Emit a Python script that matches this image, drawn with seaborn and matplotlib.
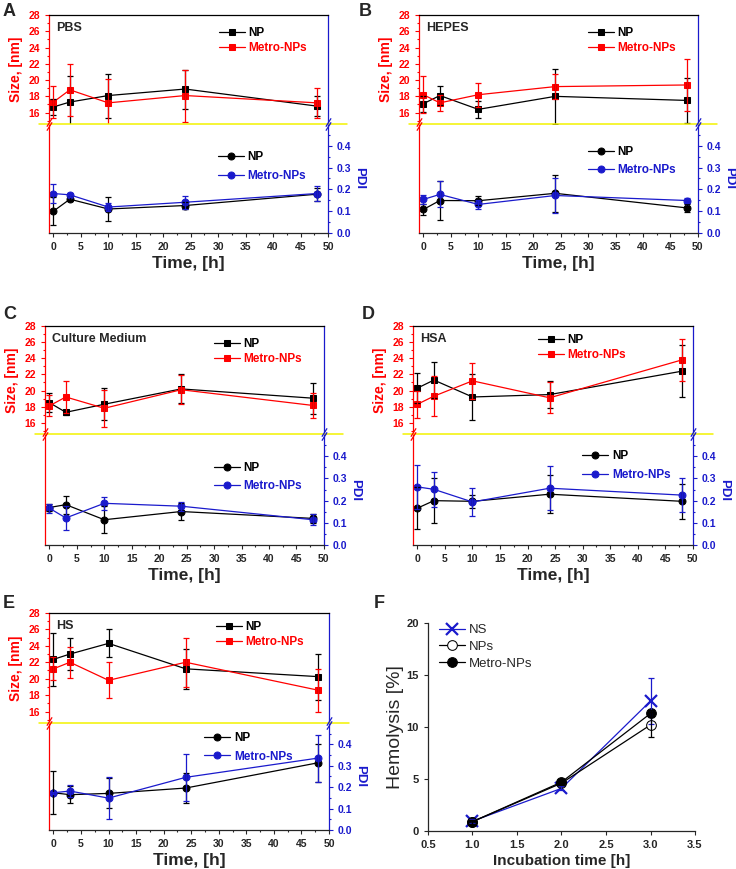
import numpy as np
import pandas as pd
import matplotlib
matplotlib.use('Agg')
import matplotlib.pyplot as plt
import seaborn as sns
from matplotlib.ticker import MultipleLocator

sns.set_style('ticks')
plt.rcParams['font.family'] = ['Liberation Sans', 'DejaVu Sans']
plt.rcParams['font.weight'] = 'bold'
plt.rcParams['axes.linewidth'] = 0.9

RED = '#ff0000'
BLUE = '#1a1acc'
YELLOW = '#f2f200'

# ---- data: stability over time (size and PDI) ----
time = [0, 3, 10, 24, 48]

pbs_np_size = [16.7, 17.3, 18.1, 18.9, 16.8]
pbs_np_size_err = [1.0, 3.2, 2.7, 2.4, 1.2]
pbs_metro_size = [17.3, 18.8, 17.2, 18.1, 17.2]
pbs_metro_size_err = [2.0, 3.2, 2.9, 3.2, 1.8]
pbs_np_pdi = [0.100, 0.155, 0.110, 0.126, 0.178]
pbs_np_pdi_err = [0.065, 0.010, 0.055, 0.015, 0.030]
pbs_metro_pdi = [0.181, 0.175, 0.119, 0.141, 0.181]
pbs_metro_pdi_err = [0.043, 0.010, 0.020, 0.030, 0.035]

hepes_np_size = [17.1, 18.1, 16.4, 18.0, 17.5]
hepes_np_size_err = [1.0, 1.2, 1.0, 3.4, 2.8]
hepes_metro_size = [18.2, 17.2, 18.2, 19.2, 19.4]
hepes_metro_size_err = [2.3, 1.0, 1.45, 1.5, 3.2]
hepes_np_pdi = [0.108, 0.149, 0.148, 0.182, 0.115]
hepes_np_pdi_err = [0.025, 0.090, 0.020, 0.085, 0.020]
hepes_metro_pdi = [0.154, 0.177, 0.131, 0.172, 0.149]
hepes_metro_pdi_err = [0.020, 0.060, 0.020, 0.080, 0.010]

cm_np_size = [18.5, 17.3, 18.3, 20.2, 19.05]
cm_np_size_err = [1.2, 0.3, 2.0, 1.8, 1.9]
cm_metro_size = [18.1, 19.2, 17.8, 20.1, 18.15]
cm_metro_size_err = [1.3, 2.0, 2.3, 1.8, 1.5]
cm_np_pdi = [0.169, 0.182, 0.114, 0.151, 0.120]
cm_np_pdi_err = [0.015, 0.040, 0.060, 0.040, 0.020]
cm_metro_pdi = [0.166, 0.122, 0.188, 0.175, 0.114]
cm_metro_pdi_err = [0.020, 0.055, 0.030, 0.020, 0.025]

hsa_np_size = [20.3, 21.3, 19.2, 19.5, 22.4]
hsa_np_size_err = [1.9, 2.2, 2.9, 1.7, 3.2]
hsa_metro_size = [18.3, 19.3, 21.2, 19.1, 23.8]
hsa_metro_size_err = [1.7, 2.5, 2.2, 1.9, 2.6]
hsa_np_pdi = [0.166, 0.200, 0.197, 0.229, 0.197]
hsa_np_pdi_err = [0.095, 0.100, 0.030, 0.085, 0.080]
hsa_metro_pdi = [0.262, 0.251, 0.194, 0.256, 0.225]
hsa_metro_pdi_err = [0.100, 0.080, 0.065, 0.100, 0.075]

hs_np_size = [22.35, 23.0, 24.3, 21.2, 20.25]
hs_np_size_err = [3.2, 1.95, 1.7, 2.4, 2.8]
hs_metro_size = [21.2, 22.0, 19.8, 22.0, 18.6]
hs_metro_size_err = [1.4, 1.9, 2.2, 3.0, 2.6]
hs_np_pdi = [0.174, 0.165, 0.171, 0.196, 0.314]
hs_np_pdi_err = [0.100, 0.040, 0.070, 0.070, 0.090]
hs_metro_pdi = [0.174, 0.182, 0.149, 0.246, 0.336]
hs_metro_pdi_err = [0.005, 0.030, 0.100, 0.110, 0.110]

# ---- data: hemolysis ----
incubation = [1.0, 2.0, 3.0]
ns_hemo = [0.95, 4.1, 12.5]
ns_hemo_err = [0.2, 0.2, 2.2]
nps_hemo = [0.9, 4.6, 10.2]
nps_hemo_err = [0.2, 0.2, 1.2]
metro_hemo = [0.9, 4.7, 11.3]
metro_hemo_err = [0.2, 0.2, 0.3]

fig = plt.figure(figsize=(7.36, 8.69), dpi=100)


def series(ax, x, y, err, color, marker, label, mfc=None):
    d = pd.DataFrame({'x': x, 'y': y})
    sns.lineplot(data=d, x='x', y='y', ax=ax, color=color, marker=marker,
                 markersize=5, markeredgecolor=color,
                 markerfacecolor=mfc if mfc else color,
                 linewidth=0.9, label=label)
    ax.errorbar(x, y, yerr=err, fmt='none', ecolor=color, elinewidth=0.9,
                capsize=2.2, capthick=0.9, zorder=3)


def break_marks(ax, xpos, color):
    for dy in (-0.018, 0.018):
        ax.plot([xpos], [dy], transform=ax.transAxes, marker=[(-1, -1.6), (1, 1.6)],
                markersize=6, linestyle='none', color=color, mec=color, mew=0.9,
                clip_on=False, zorder=5)


def stability_panel(rect, letter, letter_pos, medium, np_size, np_size_err,
                    metro_size, metro_size_err, np_pdi, np_pdi_err,
                    metro_pdi, metro_pdi_err, leg_top, leg_bot):
    left, bottom, width, h_bot, h_top = rect
    ax_b = fig.add_axes([left, bottom, width, h_bot])
    ax_t = fig.add_axes([left, bottom + h_bot, width, h_top], sharex=ax_b)

    series(ax_t, time, np_size, np_size_err, 'black', 's', 'NP')
    series(ax_t, time, metro_size, metro_size_err, RED, 's', 'Metro-NPs')
    series(ax_b, time, np_pdi, np_pdi_err, 'black', 'o', 'NP')
    series(ax_b, time, metro_pdi, metro_pdi_err, BLUE, 'o', 'Metro-NPs')

    ax_b.set_xlim(-0.8, 50)
    ax_b.xaxis.set_major_locator(MultipleLocator(5))
    ax_b.xaxis.set_minor_locator(MultipleLocator(2.5))

    # upper: size
    ax_t.set_ylim(14.6, 28)
    ax_t.yaxis.set_major_locator(MultipleLocator(2))
    ax_t.yaxis.set_minor_locator(MultipleLocator(1))
    ax_t.tick_params(axis='x', which='both', bottom=False, labelbottom=False)
    ax_t.tick_params(axis='y', which='both', colors=RED, labelsize=7.5,
                     direction='out', length=3, width=0.8)
    ax_t.tick_params(axis='y', which='minor', length=1.6)
    ax_t.spines['left'].set_color(RED)
    ax_t.spines['right'].set_color(BLUE)
    ax_t.spines['top'].set_color('black')
    ax_t.spines['bottom'].set_visible(False)
    ax_t.set_xlabel('')
    ax_t.set_ylabel('Size, [nm]', color=RED, fontsize=10, fontweight='bold', labelpad=4)

    # lower: PDI
    ax_b.set_ylim(0, 0.5)
    ax_b.yaxis.set_major_locator(MultipleLocator(0.1))
    ax_b.yaxis.set_minor_locator(MultipleLocator(0.05))
    ax_b.yaxis.tick_right()
    ax_b.yaxis.set_label_position('right')
    ax_b.set_yticks([0, 0.1, 0.2, 0.3, 0.4])
    ax_b.set_yticklabels(['0.0', '0.1', '0.2', '0.3', '0.4'])
    ax_b.tick_params(axis='y', which='both', colors=BLUE, labelsize=7.5,
                     left=False, right=True, direction='out', length=3, width=0.8)
    ax_b.tick_params(axis='y', which='minor', length=1.6)
    ax_b.tick_params(axis='x', which='both', labelsize=7.5, direction='out',
                     length=3, width=0.8)
    ax_b.tick_params(axis='x', which='minor', length=1.6)
    ax_b.spines['left'].set_color(RED)
    ax_b.spines['right'].set_color(BLUE)
    ax_b.spines['top'].set_visible(False)
    ax_b.set_ylabel('PDI', color=BLUE, fontsize=9.5, fontweight='bold',
                    rotation=270, labelpad=10)
    ax_b.set_xlabel('Time, [h]', fontsize=12.5, fontweight='bold', labelpad=3)

    # axis break
    ax_t.plot([-0.035, 1.07], [0, 0], transform=ax_t.transAxes, color=YELLOW,
              lw=1.1, clip_on=False, zorder=4)
    break_marks(ax_t, 0, RED)
    break_marks(ax_t, 1, BLUE)

    ax_t.text(0.025, 0.94, medium, transform=ax_t.transAxes, fontsize=9,
              fontweight='bold', va='top', ha='left')

    ax_t.legend(loc='upper left', bbox_to_anchor=leg_top, frameon=False,
                fontsize=8.5, handlelength=2.2, handletextpad=0.3,
                labelspacing=0.25, borderpad=0, borderaxespad=0,
                labelcolor='linecolor')
    ax_b.legend(loc='upper left', bbox_to_anchor=leg_bot, frameon=False,
                fontsize=8.5, handlelength=2.2, handletextpad=0.3,
                labelspacing=0.55, borderpad=0, borderaxespad=0,
                labelcolor='linecolor')

    fig.text(letter_pos[0], letter_pos[1], letter, fontsize=13,
             fontweight='bold', va='top', ha='left')


stability_panel((0.0666, 0.7319, 0.379, 0.1254, 0.1254), 'A', (0.004, 0.997), 'PBS',
                pbs_np_size, pbs_np_size_err, pbs_metro_size, pbs_metro_size_err,
                pbs_np_pdi, pbs_np_pdi_err, pbs_metro_pdi, pbs_metro_pdi_err,
                (0.61, 0.89), (0.605, 0.75))
stability_panel((0.5693, 0.7319, 0.379, 0.1254, 0.1254), 'B', (0.487, 0.997), 'HEPES',
                hepes_np_size, hepes_np_size_err, hepes_metro_size, hepes_metro_size_err,
                hepes_np_pdi, hepes_np_pdi_err, hepes_metro_pdi, hepes_metro_pdi_err,
                (0.605, 0.89), (0.605, 0.80))
stability_panel((0.0611, 0.3728, 0.379, 0.1277, 0.1243), 'C', (0.004, 0.648),
                'Culture Medium',
                cm_np_size, cm_np_size_err, cm_metro_size, cm_metro_size_err,
                cm_np_pdi, cm_np_pdi_err, cm_metro_pdi, cm_metro_pdi_err,
                (0.605, 0.89), (0.605, 0.75))
stability_panel((0.5611, 0.3728, 0.3804, 0.1277, 0.1243), 'D', (0.491, 0.648), 'HSA',
                hsa_np_size, hsa_np_size_err, hsa_metro_size, hsa_metro_size_err,
                hsa_np_pdi, hsa_np_pdi_err, hsa_metro_pdi, hsa_metro_pdi_err,
                (0.445, 0.925), (0.605, 0.855))
stability_panel((0.0666, 0.0449, 0.3804, 0.1231, 0.1266), 'E', (0.004, 0.315), 'HS',
                hs_np_size, hs_np_size_err, hs_metro_size, hs_metro_size_err,
                hs_np_pdi, hs_np_pdi_err, hs_metro_pdi, hs_metro_pdi_err,
                (0.595, 0.93), (0.555, 0.915))

# ---- panel F: hemolysis ----
axf = fig.add_axes([0.5815, 0.0437, 0.3628, 0.2394])
series(axf, incubation, ns_hemo, ns_hemo_err, BLUE, 'x', 'NS')
series(axf, incubation, nps_hemo, nps_hemo_err, 'black', 'o', 'NPs', mfc='white')
series(axf, incubation, metro_hemo, metro_hemo_err, 'black', 'o', 'Metro-NPs')
for ln in axf.get_lines():
    if ln.get_marker() == 'x':
        ln.set_markersize(9)
        ln.set_markeredgewidth(1.6)
    elif ln.get_marker() == 'o':
        ln.set_markersize(7)
axf.set_xlim(0.5, 3.5)
axf.set_ylim(0, 20)
axf.xaxis.set_major_locator(MultipleLocator(0.5))
axf.yaxis.set_major_locator(MultipleLocator(5))
axf.tick_params(axis='both', labelsize=8, direction='out', length=3, width=0.8)
sns.despine(ax=axf)
axf.set_xlabel('Incubation time [h]', fontsize=11, fontweight='bold', labelpad=3)
axf.set_ylabel('Hemolysis [%]', fontsize=14, fontweight='normal', labelpad=2)
legf = axf.legend(loc='upper left', bbox_to_anchor=(0.04, 0.995), frameon=False,
                  fontsize=9.5, handlelength=2.0, handletextpad=0.3,
                  labelspacing=0.35, borderpad=0, borderaxespad=0)
for t in legf.get_texts():
    t.set_fontweight('normal')
fig.text(0.508, 0.315, 'F', fontsize=13, fontweight='bold', va='top', ha='left')

fig.savefig('out.png', dpi=100)
